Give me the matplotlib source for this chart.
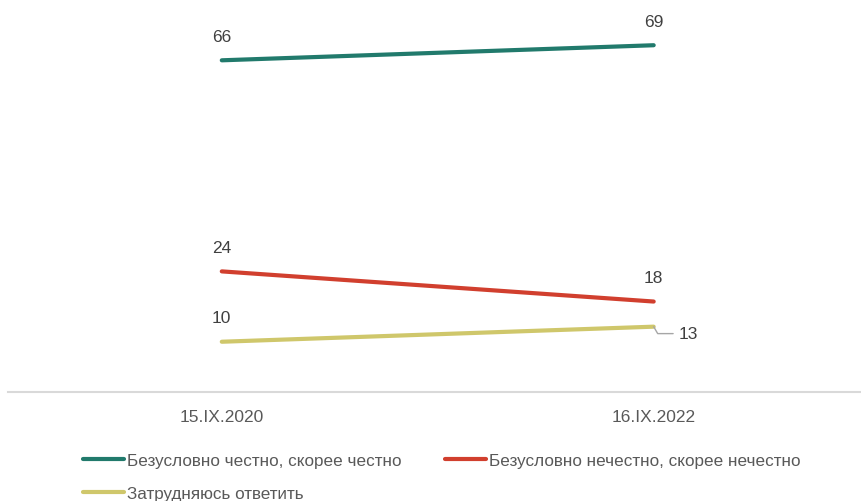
import matplotlib
matplotlib.use("Agg")
import matplotlib.pyplot as plt

dates = ["15.IX.2020", "16.IX.2022"]
honest = [66, 69]
dishonest = [24, 18]
undecided = [10, 13]
series_names = ["Безусловно честно, скорее честно",
                "Безусловно нечестно, скорее нечестно",
                "Затрудняюсь ответить"]

plt.rcParams['font.family'] = ['Liberation Sans', 'DejaVu Sans']

fig = plt.figure(figsize=(8.61, 5.02), dpi=100)
ax = fig.add_axes([8 / 861, 109 / 502, 853 / 861, 392 / 502])

x = range(len(dates))
l1, = ax.plot(x, honest, color="#217a6c", lw=3, solid_capstyle="round")
l2, = ax.plot(x, dishonest, color="#d13f2e", lw=3, solid_capstyle="round")
l3, = ax.plot(x, undecided, color="#cfc76b", lw=3, solid_capstyle="round")

label_kw = dict(textcoords="offset points", ha="center", va="bottom",
                fontsize=12.5, color="#404040")
for xi, v in zip(x, honest):
    ax.annotate(str(v), (xi, v), xytext=(0, 12), **label_kw)
for xi, v in zip(x, dishonest):
    ax.annotate(str(v), (xi, v), xytext=(0, 12), **label_kw)
ax.annotate(str(undecided[0]), (0, undecided[0]), xytext=(0, 12), **label_kw)
ax.annotate(str(undecided[1]), (1, undecided[1]), xytext=(18, -5),
            textcoords="offset points", ha="left", va="center",
            fontsize=12.5, color="#404040",
            arrowprops=dict(arrowstyle="-", color="#a6a6a6", lw=1,
                            shrinkA=2, shrinkB=0,
                            connectionstyle="angle,angleA=0,angleB=-60,rad=0"))

ax.set_xlim(-0.495, 1.48)
ax.set_ylim(0, 78)
ax.set_xticks(list(x))
ax.set_xticklabels(dates, fontsize=12.5, color="#595959")
ax.tick_params(axis="x", length=0, pad=12)
ax.set_yticks([])
for side in ["top", "left", "right"]:
    ax.spines[side].set_visible(False)
ax.spines["bottom"].set_color("#d9d9d9")
ax.spines["bottom"].set_linewidth(1.5)

fig.legend([l1, l3, l2], [series_names[0], series_names[2], series_names[1]],
           ncol=2, loc="upper left", bbox_to_anchor=(83 / 861, 1 - 454 / 502),
           frameon=False, fontsize=12.3, labelcolor="#595959",
           handlelength=2.4, handletextpad=0.2, columnspacing=2.5,
           labelspacing=1.05, borderaxespad=0, borderpad=0)

fig.savefig("out.png", dpi=100)
